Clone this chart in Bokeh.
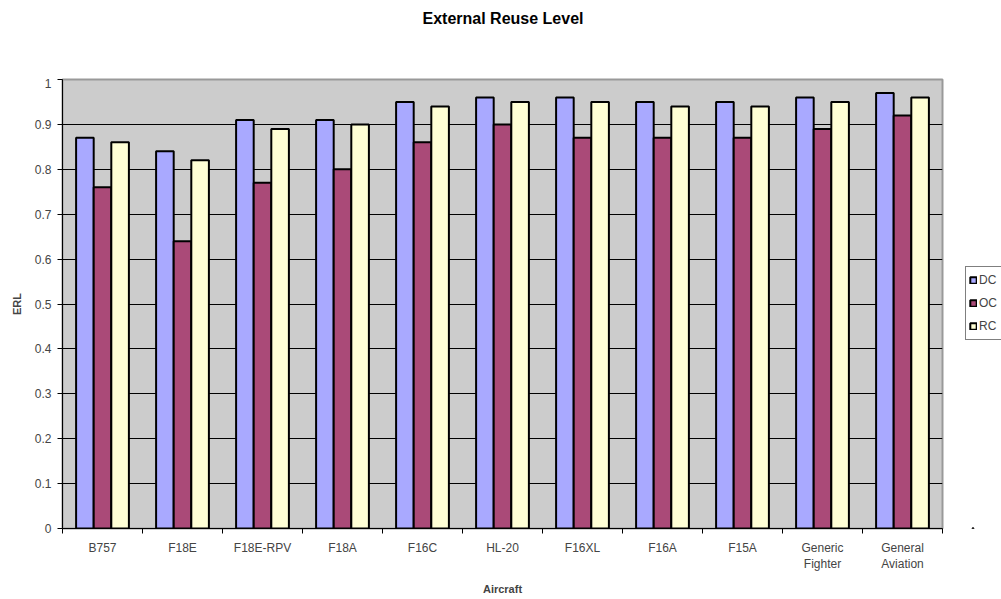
from bokeh.plotting import figure
from bokeh.models import ColumnDataSource, FixedTicker, NumeralTickFormatter, Legend, LegendItem, Range1d
from bokeh.layouts import row, column
from bokeh.core.properties import value
from bokeh.embed import file_html
from bokeh.resources import INLINE

title_text = "External Reuse Level"
categories = ["B757", "F18E", "F18E-RPV", "F18A", "F16C", "HL-20", "F16XL", "F16A", "F15A",
              "Generic\nFighter", "General\nAviation"]
dc = [0.87, 0.84, 0.91, 0.91, 0.95, 0.96, 0.96, 0.95, 0.95, 0.96, 0.97]
oc = [0.76, 0.64, 0.77, 0.80, 0.86, 0.90, 0.87, 0.87, 0.87, 0.89, 0.92]
rc = [0.86, 0.82, 0.89, 0.90, 0.94, 0.95, 0.95, 0.94, 0.94, 0.95, 0.96]
series_names = ["DC", "OC", "RC"]
colors = ["#A9A9FF", "#AA4A78", "#FFFFD6"]
y_ticks = [0, 0.1, 0.2, 0.3, 0.4, 0.5, 0.6, 0.7, 0.8, 0.9, 1.0]

n = len(categories)
centers = [i + 0.5 for i in range(n)]
FONT = "Liberation Sans"

TITLE_H = 78
MAIN_W = 944
MAIN_H = 599 - TITLE_H

# ---- title strip ----
t = figure(width=1001, height=TITLE_H, output_backend="svg", toolbar_location=None,
           x_range=Range1d(0, 1), y_range=Range1d(0, TITLE_H),
           x_axis_location=None, y_axis_location=None,
           min_border_left=0, min_border_right=0, min_border_top=0, min_border_bottom=0)
t.grid.visible = False
t.outline_line_color = None
t.background_fill_color = "white"
t.text(x=[0.502], y=[TITLE_H - 18], text=[title_text], text_font=value(FONT),
       text_font_size="16px", text_font_style="bold", text_align="center",
       text_baseline="middle", text_color="black")

# ---- main chart ----
p = figure(width=MAIN_W, height=MAIN_H, output_backend="svg", toolbar_location=None,
           x_range=Range1d(0, n), y_range=Range1d(0, 1),
           min_border_left=62, min_border_right=2, min_border_top=1, min_border_bottom=71)

p.background_fill_color = "#CCCCCC"
p.border_fill_color = "white"
p.outline_line_color = "#999999"
p.outline_line_width = 2

bw = 0.22
for k, (vals, name, col) in enumerate(zip([dc, oc, rc], series_names, colors)):
    xs = [c + (k - 1) * bw for c in centers]
    src = ColumnDataSource(dict(x=xs, top=vals))
    p.vbar(x="x", top="top", width=bw, bottom=0, source=src,
           fill_color=col, line_color="black", line_width=2)

# x axis
p.xaxis.ticker = FixedTicker(ticks=centers, minor_ticks=list(range(n + 1)))
p.xaxis.major_label_overrides = {c: lab for c, lab in zip(centers, categories)}
p.xaxis.major_tick_line_color = None
p.xaxis.major_tick_out = 5
p.xaxis.major_tick_in = 0
p.xaxis.minor_tick_line_color = "black"
p.xaxis.minor_tick_out = 5
p.xaxis.minor_tick_in = 0
p.xaxis.axis_line_color = "black"
p.xaxis.major_label_text_font = FONT
p.xaxis.major_label_text_font_size = "12px"
p.xaxis.major_label_standoff = 7
p.xaxis.axis_label = "Aircraft"
p.xaxis.axis_label_text_font = FONT
p.xaxis.axis_label_text_font_size = "11px"
p.xaxis.axis_label_text_font_style = "bold"
p.xaxis.axis_label_standoff = 9

# y axis
p.yaxis.ticker = FixedTicker(ticks=y_ticks, minor_ticks=[])
p.yaxis.formatter = NumeralTickFormatter(format="0.[0]")
p.yaxis.major_tick_out = 5
p.yaxis.major_tick_in = 0
p.yaxis.major_tick_line_color = "black"
p.yaxis.axis_line_color = "black"
p.yaxis.major_label_text_font = FONT
p.yaxis.major_label_text_font_size = "12px"
p.yaxis.major_label_standoff = 6
p.yaxis.axis_label = "ERL"
p.yaxis.axis_label_text_font = FONT
p.yaxis.axis_label_text_font_size = "11px"
p.yaxis.axis_label_text_font_style = "bold"
p.yaxis.axis_label_standoff = 9

p.xgrid.grid_line_color = None
p.ygrid.ticker = FixedTicker(ticks=y_ticks)
p.ygrid.grid_line_color = "black"
p.ygrid.grid_line_width = 1

# ---- legend strip on the right ----
lg = figure(width=1001 - MAIN_W, height=MAIN_H, output_backend="svg", toolbar_location=None,
            x_range=Range1d(0, 1), y_range=Range1d(0, 1),
            x_axis_location=None, y_axis_location=None,
            min_border_left=0, min_border_right=0, min_border_top=0, min_border_bottom=0)
lg.grid.visible = False
lg.outline_line_color = None
lg.background_fill_color = "white"
items = []
for vals, name, col in zip([dc, oc, rc], series_names, colors):
    # proxy glyph placed far below the visible range, used only for the legend swatch
    src = ColumnDataSource(dict(x=[0.5], top=[-5], bottom=[-6]))
    r = lg.vbar(x="x", top="top", bottom="bottom", width=0.01, source=src,
                fill_color=col, line_color="black", line_width=2)
    items.append(LegendItem(label=name, renderers=[r]))

legend = Legend(items=items, location=(21, 188))
legend.label_text_font = FONT
legend.label_text_font_size = "12px"
legend.glyph_width = 8
legend.glyph_height = 8
legend.label_standoff = 2
legend.label_height = 20
legend.spacing = 3
legend.padding = 3
legend.margin = 0
legend.border_line_color = "black"
legend.border_line_width = 1
legend.background_fill_color = "white"
lg.add_layout(legend, "center")

layout = column(t, row(p, lg, spacing=0), spacing=0)
open("out.html", "w").write(file_html(layout, INLINE))
